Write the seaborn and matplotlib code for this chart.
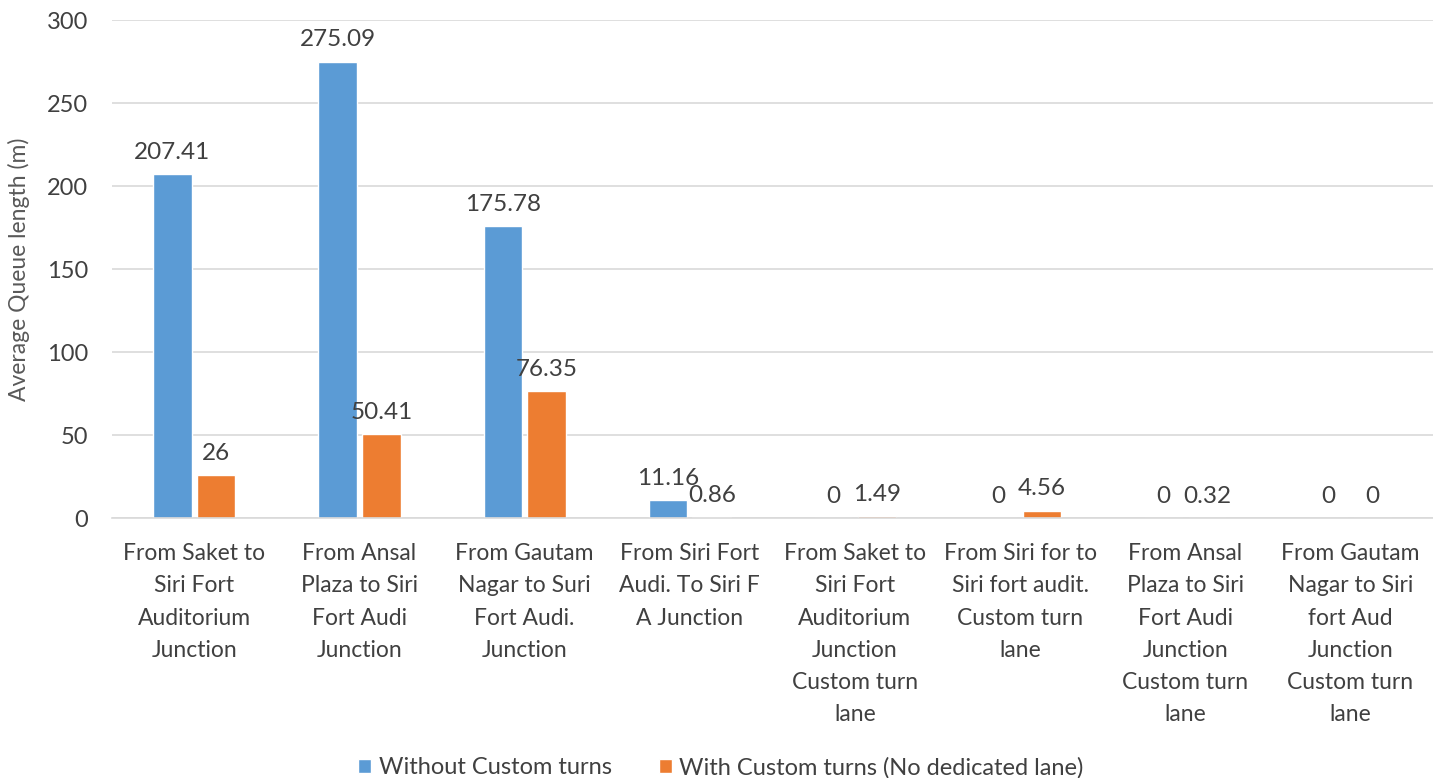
import matplotlib
matplotlib.use("Agg")
import matplotlib.pyplot as plt
import pandas as pd
import seaborn as sns

categories = [
    "From Saket to\nSiri Fort\nAuditorium\nJunction",
    "From Ansal\nPlaza to Siri\nFort Audi\nJunction",
    "From Gautam\nNagar to Suri\nFort Audi.\nJunction",
    "From Siri Fort\nAudi. To Siri F\nA Junction",
    "From Saket to\nSiri Fort\nAuditorium\nJunction\nCustom turn\nlane",
    "From Siri for to\nSiri fort audit.\nCustom turn\nlane",
    "From Ansal\nPlaza to Siri\nFort Audi\nJunction\nCustom turn\nlane",
    "From Gautam\nNagar to Siri\nfort Aud\nJunction\nCustom turn\nlane",
]
series_names = ["Without Custom turns", "With Custom turns (No dedicated lane)"]
without_custom = [207.41, 275.09, 175.78, 11.16, 0, 0, 0, 0]
with_custom = [26, 50.41, 76.35, 0.86, 1.49, 4.56, 0.32, 0]
value_labels_without = ["207.41", "275.09", "175.78", "11.16", "0", "0", "0", "0"]
value_labels_with = ["26", "50.41", "76.35", "0.86", "1.49", "4.56", "0.32", "0"]

df = pd.DataFrame({
    "category": categories * 2,
    "series": [series_names[0]] * 8 + [series_names[1]] * 8,
    "value": without_custom + with_custom,
})

sns.set_style("white")
plt.rcParams["font.family"] = ["Lato", "DejaVu Sans"]
text_color = "#404040"

fig = plt.figure(figsize=(14.33, 7.78), dpi=100)
ax = fig.add_axes([0.078, 0.334, 0.922, 0.64])

sns.barplot(data=df, x="category", y="value", hue="series",
            palette=["#5B9BD5", "#ED7D31"], saturation=1,
            width=0.53, gap=0.12, ax=ax, legend=True)

ax.set_ylim(0, 300)
ax.set_yticks(range(0, 301, 50))
ax.yaxis.grid(True, color="#D9D9D9", linewidth=1.2)
ax.set_axisbelow(True)
for side in ["top", "right", "left"]:
    ax.spines[side].set_visible(False)
ax.spines["bottom"].set_color("#D9D9D9")
ax.spines["bottom"].set_linewidth(1.2)
ax.set_xlim(-0.5, 7.5)

ax.tick_params(axis="y", length=0, labelsize=17, labelcolor=text_color, pad=17)
ax.tick_params(axis="x", length=0, labelsize=16.5, labelcolor=text_color, pad=18)
for lbl in ax.get_xticklabels():
    lbl.set_linespacing(1.66)

ax.set_xlabel("")
ax.set_ylabel("Average Queue length (m)", fontsize=16.5, color="#595959", labelpad=12)

for cont, labels in zip(ax.containers, [value_labels_without, value_labels_with]):
    ax.bar_label(cont, labels=labels, padding=8, fontsize=17.5, color=text_color)

handles, lbls = ax.get_legend_handles_labels()
ax.legend(handles, lbls, loc="lower center", bbox_to_anchor=(0.5 - 0.078 / 2, -0.565),
          ncol=2, frameon=False, fontsize=17, labelcolor=text_color,
          handlelength=0.55, handleheight=0.55, handletextpad=0.3, columnspacing=2.0)

fig.savefig("out.png", dpi=100)
